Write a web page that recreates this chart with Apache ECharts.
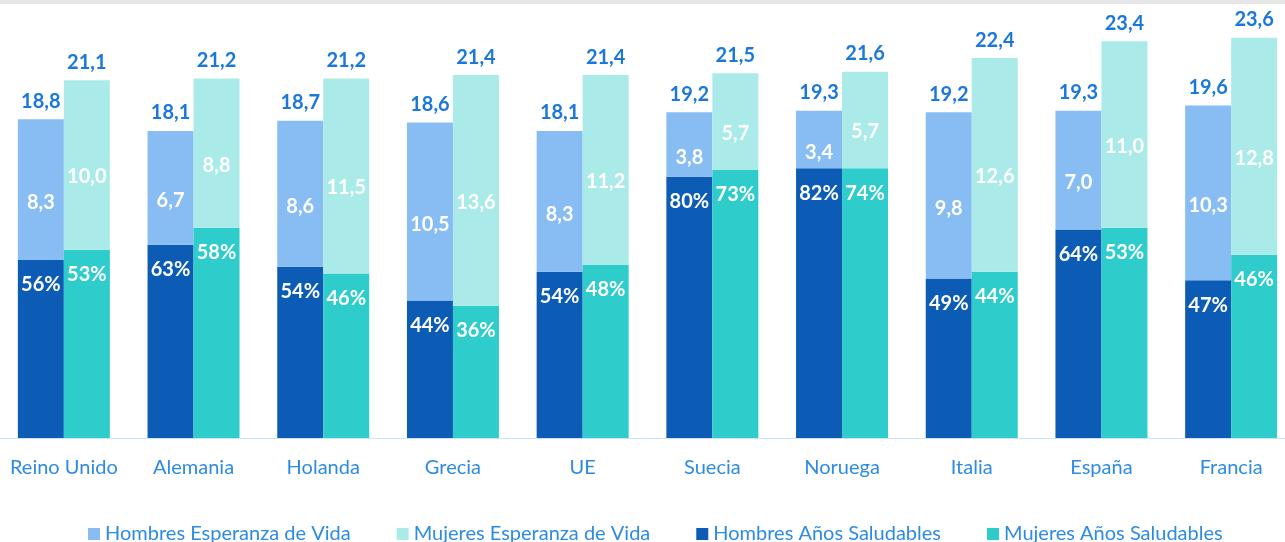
<!DOCTYPE html>
<html>
<head>
<meta charset="utf-8">
<script src="https://cdn.jsdelivr.net/npm/echarts@6/dist/echarts.min.js"></script>
<style>
html,body{margin:0;padding:0;background:#fff;}
#chart{width:1285px;height:542px;}
</style>
</head>
<body>
<div id="chart"></div>
<script>
const categories = ['Reino Unido','Alemania','Holanda','Grecia','UE','Suecia','Noruega','Italia','España','Francia'];
// Esperanza de vida total a los 65 años
const menTotal   = [18.8, 18.1, 18.7, 18.6, 18.1, 19.2, 19.3, 19.2, 19.3, 19.6];
const womenTotal = [21.1, 21.2, 21.2, 21.4, 21.4, 21.5, 21.6, 22.4, 23.4, 23.6];
// Años no saludables (parte clara de la barra)
const menRest    = [8.3, 6.7, 8.6, 10.5, 8.3, 3.8, 3.4, 9.8, 7.0, 10.3];
const womenRest  = [10.0, 8.8, 11.5, 13.6, 11.2, 5.7, 5.7, 12.6, 11.0, 12.8];
// Años saludables (parte oscura de la barra)
const menHealthy   = [10.5, 11.4, 10.1, 8.1, 9.8, 15.4, 15.9, 9.4, 12.3, 9.3];
const womenHealthy = [11.1, 12.4, 9.7, 7.8, 10.2, 15.8, 15.9, 9.8, 12.4, 10.8];

const FONT = 'Lato, "Open Sans", sans-serif';
const C = {
  menLight: '#88bdf4', womenLight: '#aaebea',
  menDark: '#0c5bb4', womenDark: '#2ecdcb',
  total: '#1a78da', axis: '#2e8be2'
};
const fmt = v => v.toFixed(1).replace('.', ',');

const chart = echarts.init(document.getElementById('chart'));
const inLabel = {
  show: true, color: '#fff', fontFamily: FONT, fontWeight: 'bold', fontSize: 20
};
const barW = 46;
chart.setOption({
  animation: false,
  graphic: [{ type: 'rect', left: 0, top: 0, shape: { width: 1285, height: 4 }, style: { fill: '#e6e6e6' } }],
  grid: { left: -1, right: -11, top: 14, bottom: 104, outerBoundsMode: 'none', containLabel: false },
  legend: {
    top: 519, left: 83, itemWidth: 12, itemHeight: 12, itemGap: 46,
    icon: 'rect',
    textStyle: { color: C.axis, fontFamily: FONT, fontSize: 20 },
    data: ['Hombres Esperanza de Vida','Mujeres Esperanza de Vida','Hombres Años Saludables','Mujeres Años Saludables']
  },
  xAxis: {
    type: 'category', data: categories,
    axisLine: { lineStyle: { color: '#cde3f6', width: 1 } },
    axisTick: { show: false },
    axisLabel: { color: C.axis, fontFamily: FONT, fontSize: 20, margin: 20, interval: 0 }
  },
  yAxis: { type: 'value', min: 0, max: 25, show: false, splitLine: { show: false } },
  series: [
    {
      name: 'Hombres Años Saludables', type: 'bar', stack: 'm', barWidth: barW, barGap: '0%',
      data: menHealthy, itemStyle: { color: C.menDark },
      label: Object.assign({}, inLabel, { position: 'insideTop', distance: 15,
        formatter: p => Math.round(menHealthy[p.dataIndex] / menTotal[p.dataIndex] * 100) + '%' })
    },
    {
      name: 'Hombres Esperanza de Vida', type: 'bar', stack: 'm', barWidth: barW, barGap: '0%',
      data: menRest, itemStyle: { color: C.menLight },
      label: Object.assign({}, inLabel, { position: 'inside', offset: [0, 13], formatter: p => fmt(p.value) })
    },
    {
      name: 'HombresTotal', type: 'bar', stack: 'm', barWidth: barW, barGap: '0%',
      data: menTotal.map(() => 0), itemStyle: { color: 'transparent' },
      label: { show: true, position: 'top', distance: 8, color: C.total, fontFamily: FONT, fontWeight: 'bold', fontSize: 20,
        formatter: p => fmt(menTotal[p.dataIndex]) }
    },
    {
      name: 'Mujeres Años Saludables', type: 'bar', stack: 'w', barWidth: barW, barGap: '0%',
      data: womenHealthy, itemStyle: { color: C.womenDark },
      label: Object.assign({}, inLabel, { position: 'insideTop', distance: 15,
        formatter: p => Math.round(womenHealthy[p.dataIndex] / womenTotal[p.dataIndex] * 100) + '%' })
    },
    {
      name: 'Mujeres Esperanza de Vida', type: 'bar', stack: 'w', barWidth: barW, barGap: '0%',
      data: womenRest, itemStyle: { color: C.womenLight },
      label: Object.assign({}, inLabel, { position: 'inside', offset: [0, 12], formatter: p => fmt(p.value) })
    },
    {
      name: 'MujeresTotal', type: 'bar', stack: 'w', barWidth: barW, barGap: '0%',
      data: womenTotal.map(() => 0), itemStyle: { color: 'transparent' },
      label: { show: true, position: 'top', distance: 8, color: C.total, fontFamily: FONT, fontWeight: 'bold', fontSize: 20,
        formatter: p => fmt(womenTotal[p.dataIndex]) }
    }
  ]
});
</script>
</body>
</html>
